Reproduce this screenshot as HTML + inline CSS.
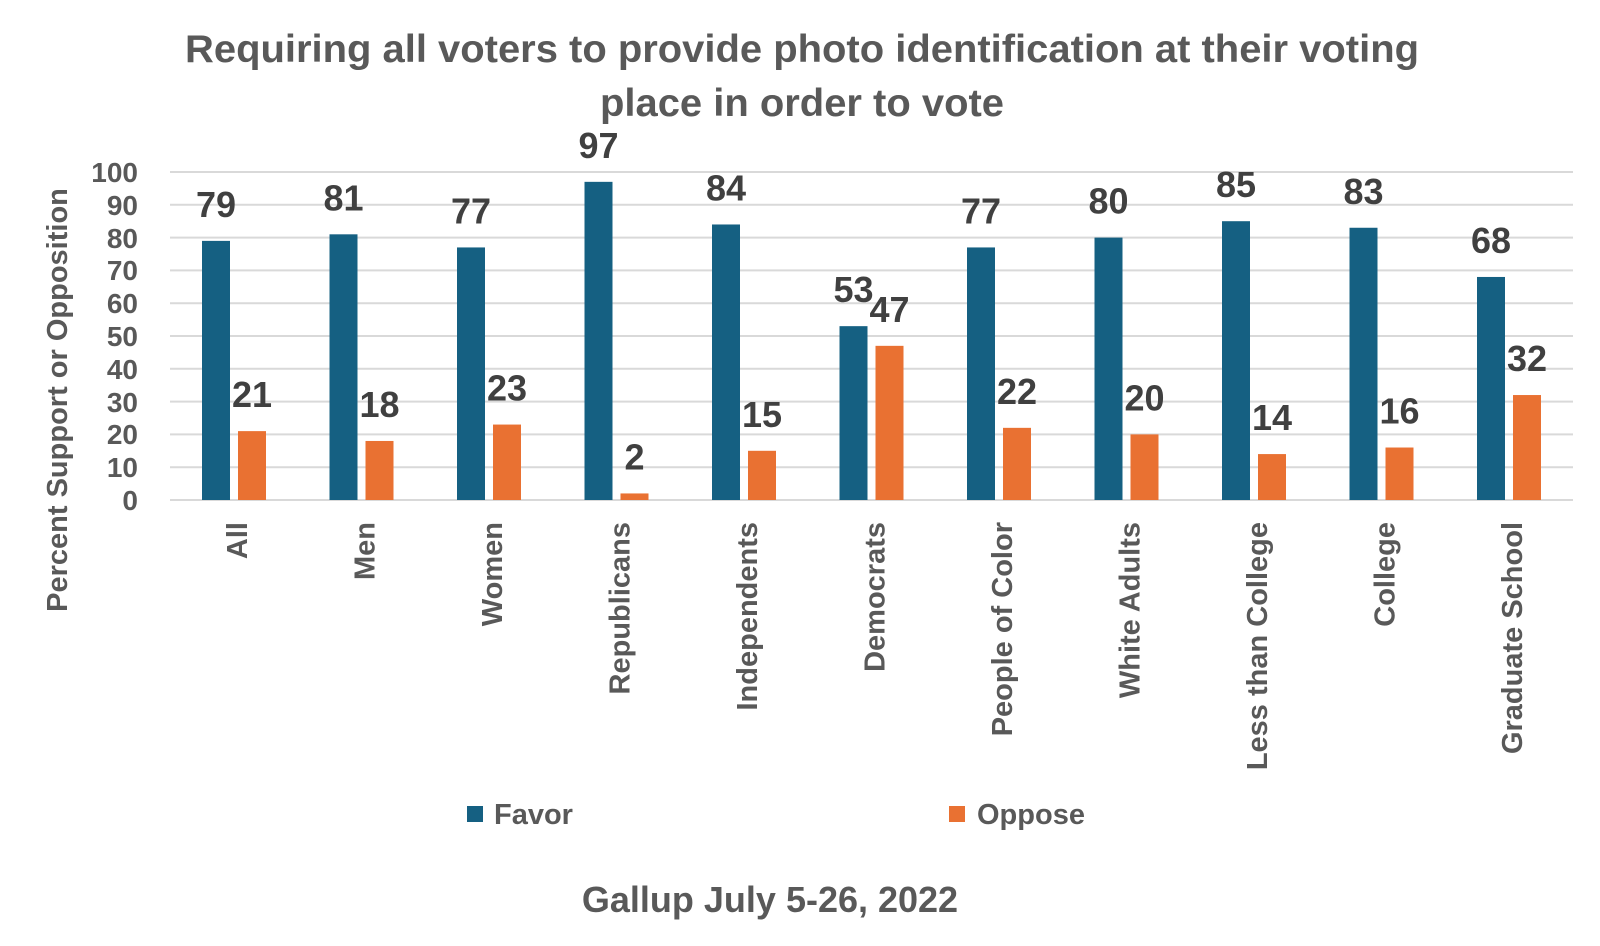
<!DOCTYPE html>
<html><head><style>
html,body{margin:0;padding:0;background:#fff;}
svg{display:block;font-family:"Liberation Sans",sans-serif;font-weight:bold;}
</style></head><body>
<svg width="1600" height="946" viewBox="0 0 1600 946" xmlns="http://www.w3.org/2000/svg">
<text x="802" y="62" text-anchor="middle" font-size="39" fill="#595959" textLength="1234" lengthAdjust="spacingAndGlyphs">Requiring all voters to provide photo identification at their voting</text>
<text x="802" y="116" text-anchor="middle" font-size="39" fill="#595959" textLength="404" lengthAdjust="spacingAndGlyphs">place in order to vote</text>
<g stroke="#d9d9d9" stroke-width="2">
<line x1="170" x2="1573" y1="172" y2="172"/><line x1="170" x2="1573" y1="204.8" y2="204.8"/><line x1="170" x2="1573" y1="237.6" y2="237.6"/><line x1="170" x2="1573" y1="270.4" y2="270.4"/><line x1="170" x2="1573" y1="303.2" y2="303.2"/><line x1="170" x2="1573" y1="336" y2="336"/><line x1="170" x2="1573" y1="368.8" y2="368.8"/><line x1="170" x2="1573" y1="401.6" y2="401.6"/><line x1="170" x2="1573" y1="434.4" y2="434.4"/><line x1="170" x2="1573" y1="467.2" y2="467.2"/><line x1="170" x2="1573" y1="500" y2="500"/>
</g>
<g font-size="28" fill="#595959" text-anchor="end">
<text x="138" y="182">100</text><text x="138" y="215">90</text><text x="138" y="248">80</text><text x="138" y="280">70</text><text x="138" y="313">60</text><text x="138" y="346">50</text><text x="138" y="379">40</text><text x="138" y="412">30</text><text x="138" y="444">20</text><text x="138" y="477">10</text><text x="138" y="510">0</text>
</g>
<text transform="translate(67,400) rotate(-90)" text-anchor="middle" font-size="29" fill="#595959">Percent Support or Opposition</text>
<g id="bars"></g>
<g font-size="29" fill="#595959" id="cats"></g>
<g font-size="36" fill="#404040" id="labs"></g>
<rect x="467" y="806" width="16" height="16" fill="#156082"/>
<text x="494" y="824" font-size="29" fill="#595959">Favor</text>
<rect x="949" y="806" width="16" height="16" fill="#e97132"/>
<text x="977" y="824" font-size="29" fill="#595959">Oppose</text>
<text x="770" y="912" text-anchor="middle" font-size="36" fill="#595959">Gallup July 5-26, 2022</text>
<script>
var cats=["All","Men","Women","Republicans","Independents","Democrats","People of Color","White Adults","Less than College","College","Graduate School"];
var fav=[79,81,77,97,84,53,77,80,85,83,68],opp=[21,18,23,2,15,47,22,20,14,16,32];
var ns="http://www.w3.org/2000/svg",b=document.getElementById("bars"),c=document.getElementById("cats"),l=document.getElementById("labs");
function y(v){return 500-3.28*v;}
function el(p,t,a,txt){var e=document.createElementNS(ns,t);for(var k in a)e.setAttribute(k,a[k]);if(txt)e.textContent=txt;p.appendChild(e);}
for(var i=0;i<11;i++){var x=202+127.5*i;
el(b,"rect",{x:x,y:y(fav[i]),width:28,height:3.28*fav[i],fill:"#156082"});
el(b,"rect",{x:x+36,y:y(opp[i]),width:28,height:3.28*opp[i],fill:"#e97132"});
el(l,"text",{x:x+14,y:y(fav[i])-24,"text-anchor":"middle"},String(fav[i]));
el(l,"text",{x:x+50,y:y(opp[i])-24,"text-anchor":"middle"},String(opp[i]));
el(c,"text",{transform:"translate("+(x+45)+",522) rotate(-90)","text-anchor":"end"},cats[i]);}
</script>
</svg>
</body></html>
